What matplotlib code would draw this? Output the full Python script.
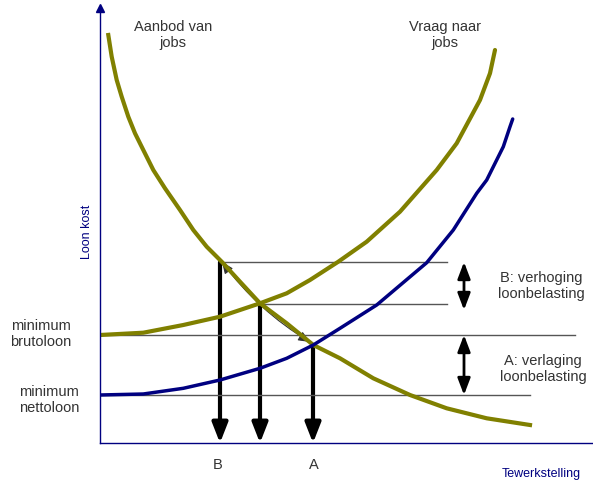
import matplotlib
matplotlib.use("Agg")
import matplotlib.pyplot as plt
from matplotlib.patches import FancyArrowPatch

plt.rcParams['font.family'] = ['Liberation Sans', 'DejaVu Sans']

# curves (x = tewerkstelling, y = loonkost, arbitrary units)
aanbod_x = [8.3, 11.7, 16.7, 21.7, 28.3, 35, 43.3, 53.3, 65, 80, 93.3, 106.7, 121.7, 140, 160,
            186.7, 213.3, 240, 273.3, 310, 346.7, 386.7, 430]
aanbod_y = [408, 386.3, 363, 346.3, 326.3, 309.7, 293, 273, 254.7, 233, 213, 196.3, 181.3, 161.3, 139.7,
            119.7, 98, 84.7, 64.7, 48, 34.7, 24.7, 18]

vraag_x = [0, 43.3, 83.3, 120, 160, 186.7, 210, 238.3, 266.7, 300, 336.7, 356.7, 380, 390, 395]
vraag_y = [108, 110.3, 118, 126.3, 139.7, 149.7, 163, 181.3, 201.3, 231.3, 273, 299.7, 343, 369.7, 393]

vraag_netto_x = [0, 43.3, 83.3, 120, 160, 186.7, 213.3, 240, 276.7, 326.7, 353.3, 376.7, 386.7,
                 403.3, 410, 412.7]
vraag_netto_y = [48, 49, 54.7, 63, 74.7, 84.7, 98, 114.7, 138, 180.3, 213, 249.7, 263,
                 296.3, 316.3, 324]

# levels
brutoloon = 108
nettoloon = 48
level_b = 181
level_eq = 139
level_a = 98
emp_b, emp_eq, emp_a = 120, 160, 213

olive = '#808000'
navy = '#000080'
grey = '#555555'

fig = plt.figure(figsize=(5.93, 4.83), dpi=100)
ax = fig.add_axes([100 / 593, 40 / 483, 493 / 593, 435 / 483])
ax.set_xlim(0, 493)
ax.set_ylim(0, 435)
for s in ['top', 'right']:
    ax.spines[s].set_visible(False)
for s in ['left', 'bottom']:
    ax.spines[s].set_color(navy)
    ax.spines[s].set_linewidth(1)
ax.set_xticks([])
ax.set_yticks([])
ax.plot([0], [435], marker='^', color=navy, markersize=6, clip_on=False)

# horizontal reference lines
ax.plot([0, 475], [brutoloon, brutoloon], color=grey, lw=1)
ax.plot([0, 430], [nettoloon, nettoloon], color=grey, lw=1)
ax.plot([emp_b, 347], [level_b, level_b], color=grey, lw=1)
ax.plot([emp_eq, 347], [level_eq, level_eq], color=grey, lw=1)

# curves
ax.plot(aanbod_x, aanbod_y, color=olive, lw=3, solid_joinstyle='round')
ax.plot(vraag_x, vraag_y, color=olive, lw=3, solid_joinstyle='round', solid_capstyle='round')
ax.plot(vraag_netto_x, vraag_netto_y, color=navy, lw=2.5, solid_joinstyle='round', solid_capstyle='round')

# vertical arrows down to the x axis
for xe, ye in [(emp_b, level_b), (emp_eq, level_eq), (emp_a, level_a)]:
    ax.add_patch(FancyArrowPatch((xe, ye), (xe, 0), arrowstyle='-|>,head_length=1.2,head_width=0.47',
                                 mutation_scale=10, color='black', lw=3, shrinkA=0, shrinkB=0,
                                 clip_on=False))

# double arrows on the right
for y0, y1 in [(level_b, 133), (brutoloon, nettoloon)]:
    ax.add_patch(FancyArrowPatch((364, y0), (364, y1), arrowstyle='<|-|>,head_length=1.0,head_width=0.38',
                                 mutation_scale=10, color='black', lw=2, shrinkA=0, shrinkB=0))

# thin arrow along the curve
ax.add_patch(FancyArrowPatch((122, 181), (210, 101), connectionstyle='arc3,rad=0.1',
                             arrowstyle='<|-|>,head_length=0.7,head_width=0.3', mutation_scale=10,
                             color='#333333', lw=0.8, shrinkA=0, shrinkB=0))

fs = 10.5
tc = '#333333'
ax.text(73, 408, 'Aanbod van\njobs', ha='center', va='center', fontsize=fs, color=tc)
ax.text(345, 408, 'Vraag naar\njobs', ha='center', va='center', fontsize=fs, color=tc)
ax.text(-59, 109, 'minimum\nbrutoloon', ha='center', va='center', fontsize=fs, color=tc, clip_on=False)
ax.text(-51, 43, 'minimum\nnettoloon', ha='center', va='center', fontsize=fs, color=tc, clip_on=False)
ax.text(118, -22, 'B', ha='center', va='center', fontsize=fs, color=tc, clip_on=False)
ax.text(214, -22, 'A', ha='center', va='center', fontsize=fs, color=tc, clip_on=False)
ax.text(441, 157, 'B: verhoging\nloonbelasting', ha='center', va='center', fontsize=fs, color=tc)
ax.text(443, 74, 'A: verlaging\nloonbelasting', ha='center', va='center', fontsize=fs, color=tc)
ax.text(-13, 211, 'Loon kost', rotation=90, ha='center', va='center', fontsize=9, color=navy, clip_on=False)
ax.text(441, -31, 'Tewerkstelling', ha='center', va='center', fontsize=9, color=navy, clip_on=False)

fig.savefig('out.png', dpi=100)
